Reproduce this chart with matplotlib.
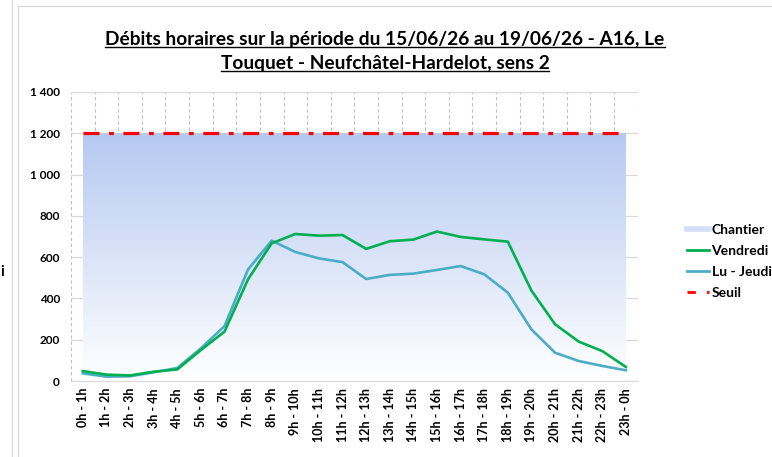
import matplotlib
matplotlib.use("Agg")
import matplotlib.pyplot as plt
import numpy as np
from matplotlib.colors import LinearSegmentedColormap
from matplotlib.lines import Line2D
from matplotlib.ticker import FuncFormatter, MultipleLocator

plt.rcParams['font.family'] = ['Lato', 'DejaVu Sans']
plt.rcParams['font.weight'] = 'bold'

# Données
heures = [f"{h}h - {(h + 1) % 24}h" for h in range(24)]
vendredi = [48, 31, 27, 45, 56, 150, 239, 493, 667, 712, 704, 707,
            640, 677, 685, 724, 698, 686, 675, 438, 275, 191, 145, 68]
lu_jeudi = [37, 21, 23, 42, 63, 158, 266, 541, 680, 625, 594, 576,
            494, 514, 520, 538, 557, 517, 428, 250, 137, 97, 73, 52]
chantier = [1200] * 24
seuil = [1200] * 24

titre_1 = "Débits horaires sur la période du 15/06/26 au 19/06/26 - A16, Le"
titre_2 = "Touquet - Neufchâtel-Hardelot, sens 2"

fig = plt.figure(figsize=(7.72, 4.57), dpi=100)
ax = fig.add_axes([0.092, 0.1663, 0.734, 0.6324])
x = np.arange(len(heures))

# Zone chantier avec dégradé
poly = ax.fill_between(x, 0, chantier, color='none', lw=0)
degrade = LinearSegmentedColormap.from_list('deg', ['#ffffff', '#b5c9f1'])
img = ax.imshow(np.linspace(0, 1, 256).reshape(-1, 1), cmap=degrade, origin='lower',
                aspect='auto', extent=(x[0], x[-1], 0, max(chantier)), zorder=1)
img.set_clip_path(poly.get_paths()[0], transform=ax.transData)

ax.plot(x, vendredi, color='#00b050', lw=1.9, zorder=4)
ax.plot(x, lu_jeudi, color='#4bacc6', lw=1.9, zorder=3)
ax.plot(x, seuil, color='#ff0000', lw=2.3, dashes=(5, 3, 1.5, 3), zorder=5)

ax.set_xlim(-0.5, 23.5)
ax.set_ylim(0, 1400)
ax.yaxis.set_major_locator(MultipleLocator(200))
ax.yaxis.set_major_formatter(FuncFormatter(lambda v, p: f"{int(v):,}".replace(",", " ")))
ax.set_xticks(x)
ax.set_xticklabels(heures, rotation=90, fontsize=9, fontweight='bold')
ax.tick_params(axis='y', labelsize=8.5, length=0, pad=8)
ax.tick_params(axis='x', length=0, pad=5)
for lbl in ax.get_yticklabels():
    lbl.set_fontweight('bold')

ax.grid(axis='y', color='#d9d9d9', lw=0.9, zorder=0)
for b in np.arange(-0.5, 24, 1):
    ax.axvline(b, color='#bfbfbf', lw=0.8, ls=(0, (3, 2.5)), zorder=0.5)
for s in ['top', 'right', 'left']:
    ax.spines[s].set_visible(False)
ax.spines['bottom'].set_color('#d9d9d9')
ax.set_axisbelow(True)

# Légende
handles = [Line2D([], [], color='#d3e0f8', lw=4),
           Line2D([], [], color='#00b050', lw=2),
           Line2D([], [], color='#4bacc6', lw=2),
           Line2D([], [], color='#ff0000', lw=2, dashes=(3, 4, 1.5, 3))]
fig.legend(handles, ['Chantier', 'Vendredi', 'Lu - Jeudi', 'Seuil'],
           loc='upper left', bbox_to_anchor=(0.874, 0.537), frameon=False,
           handlelength=1.55, handletextpad=0.2, labelspacing=0.65,
           prop={'weight': 'bold', 'size': 10})

# Titre souligné
t1 = fig.text(0.4987, 1 - 40 / 457, titre_1, ha='center', va='center', fontsize=13.8, fontweight='bold')
t2 = fig.text(0.4987, 1 - 64 / 457, titre_2, ha='center', va='center', fontsize=13.8, fontweight='bold')
fig.canvas.draw()
inv = fig.transFigure.inverted()
for t in (t1, t2):
    bb = t.get_window_extent().transformed(inv)
    y_u = bb.y0 + 0.004
    fig.add_artist(Line2D([bb.x0, bb.x1], [y_u, y_u], color='black', lw=1, transform=fig.transFigure))

# Bords du cadre
fig.add_artist(Line2D([12 / 772, 12 / 772], [0, 1], color='#d9d9d9', lw=0.8, transform=fig.transFigure))
fig.add_artist(Line2D([18 / 772, 18 / 772], [0, 1 - 6 / 457], color='#d9d9d9', lw=0.8, transform=fig.transFigure))
fig.add_artist(Line2D([18 / 772, 1], [1 - 6 / 457, 1 - 6 / 457], color='#d9d9d9', lw=0.8, transform=fig.transFigure))
fig.text(0.5 / 772, 1 - 272 / 457, "i", ha='left', va='center', fontsize=10.5, fontweight='bold')

fig.savefig('out.png', dpi=100)
